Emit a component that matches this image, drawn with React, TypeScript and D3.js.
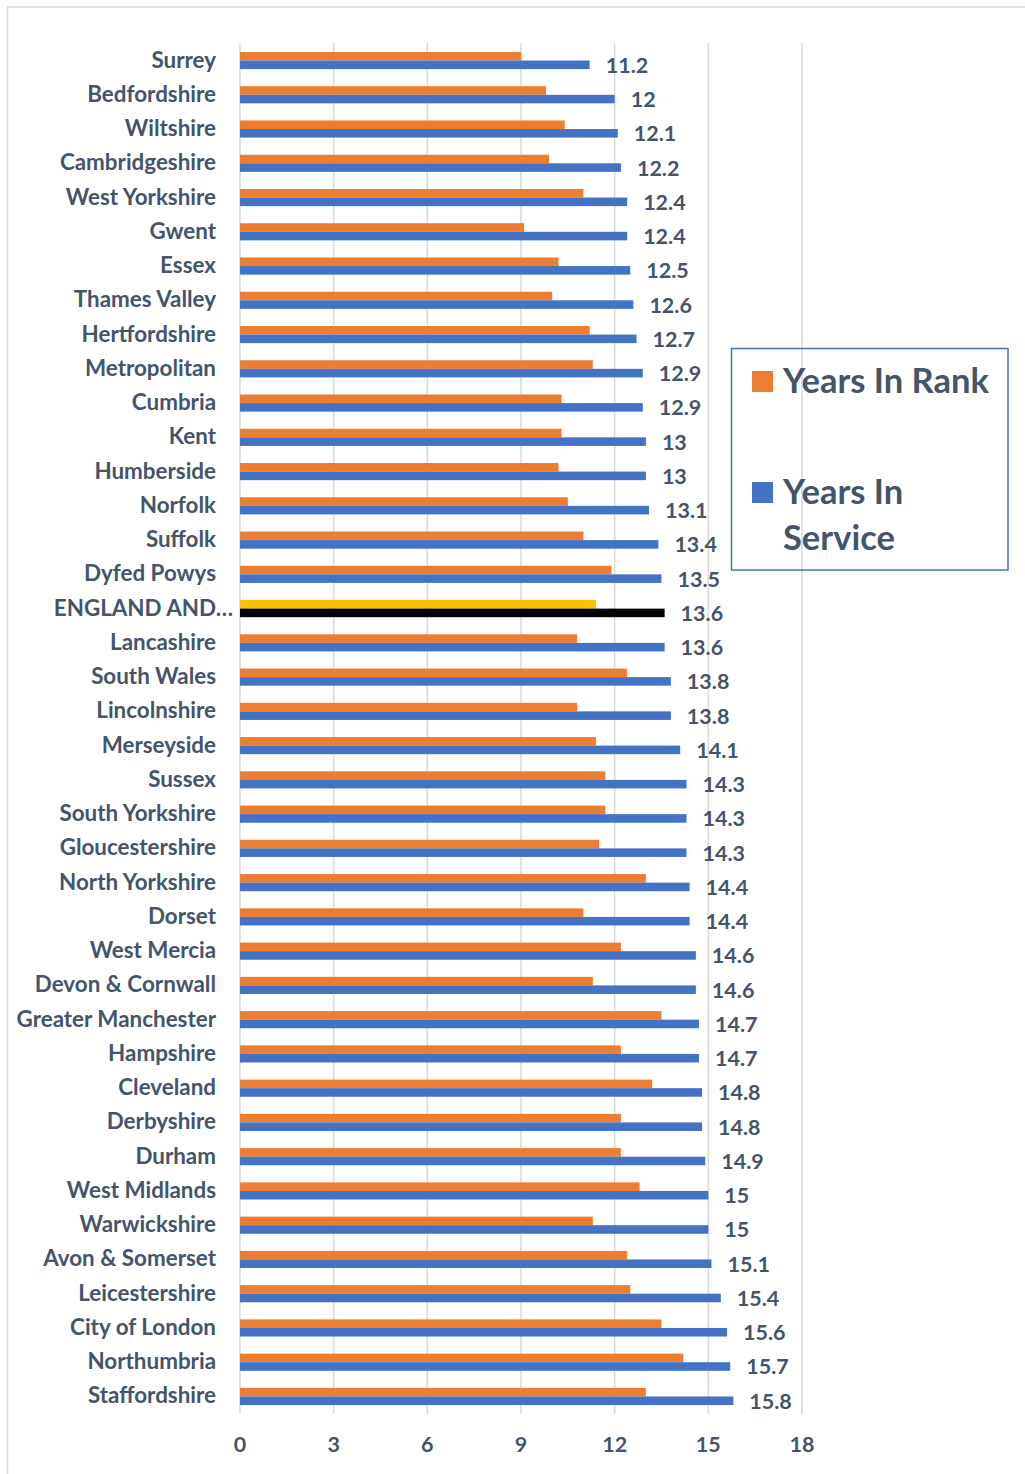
import React from "react";
import * as d3 from "d3";

const categories = [
  "Surrey", "Bedfordshire", "Wiltshire", "Cambridgeshire", "West Yorkshire", "Gwent", "Essex",
  "Thames Valley", "Hertfordshire", "Metropolitan", "Cumbria", "Kent", "Humberside", "Norfolk",
  "Suffolk", "Dyfed Powys", "ENGLAND AND WALES", "Lancashire", "South Wales", "Lincolnshire",
  "Merseyside", "Sussex", "South Yorkshire", "Gloucestershire", "North Yorkshire", "Dorset",
  "West Mercia", "Devon & Cornwall", "Greater Manchester", "Hampshire", "Cleveland", "Derbyshire",
  "Durham", "West Midlands", "Warwickshire", "Avon & Somerset", "Leicestershire", "City of London",
  "Northumbria", "Staffordshire",
];

const yearsInRank = [
  9.0, 9.8, 10.4, 9.9, 11.0, 9.1, 10.2, 10.0, 11.2, 11.3, 10.3, 10.3, 10.2, 10.5, 11.0, 11.9,
  11.4, 10.8, 12.4, 10.8, 11.4, 11.7, 11.7, 11.5, 13.0, 11.0, 12.2, 11.3, 13.5, 12.2, 13.2, 12.2,
  12.2, 12.8, 11.3, 12.4, 12.5, 13.5, 14.2, 13.0,
];

const yearsInService = [
  11.2, 12, 12.1, 12.2, 12.4, 12.4, 12.5, 12.6, 12.7, 12.9, 12.9, 13, 13, 13.1, 13.4, 13.5,
  13.6, 13.6, 13.8, 13.8, 14.1, 14.3, 14.3, 14.3, 14.4, 14.4, 14.6, 14.6, 14.7, 14.7, 14.8, 14.8,
  14.9, 15, 15, 15.1, 15.4, 15.6, 15.7, 15.8,
];

const xTicks = [0, 3, 6, 9, 12, 15, 18];
const seriesNames = ["Years In Rank", "Years In Service"];
const highlightCategory = "ENGLAND AND WALES";

const W = 1025;
const H = 1474;
const TEXT = "#44546A";
const FONT = "Lato, 'Open Sans', sans-serif";
const ORANGE = "#ED7D31";
const BLUE = "#4472C4";
const GOLD = "#FFC000";
const BLACK = "#000000";

function displayLabel(s: string) {
  return s === highlightCategory ? s.slice(0, 11) + "…" : s;
}

export default function App() {
  const x = d3.scaleLinear().domain([0, 18]).range([240, 802]);
  const y = d3
    .scaleBand<string>()
    .domain(categories)
    .range([43.4, 1413.6])
    .paddingInner(0.5)
    .paddingOuter(0.25);
  const inner = d3.scaleBand<string>().domain(seriesNames).range([0, y.bandwidth()]);

  return (
    <div style={{ position: "absolute", left: 0, top: 0 }}>
      <svg width={W} height={H} style={{ display: "block", fontFamily: FONT }}>
        <rect x={0} y={0} width={W} height={H} fill="#fff" />
        <rect x={7.5} y={7} width={W + 50} height={H + 50} fill="none" stroke="#d9d9d9" strokeWidth={1.5} />

        {xTicks.map((t) => (
          <line key={t} x1={x(t)} x2={x(t)} y1={43} y2={1414} stroke="#d9d9d9" strokeWidth={1.5} />
        ))}

        {categories.map((c, i) => {
          const y0 = y(c)!;
          const hl = c === highlightCategory;
          const rankW = x(yearsInRank[i]) - x(0);
          const servW = x(yearsInService[i]) - x(0);
          const yr = y0 + inner(seriesNames[0])!;
          const ys = y0 + inner(seriesNames[1])!;
          return (
            <g key={c}>
              <rect x={x(0)} y={yr} width={rankW} height={inner.bandwidth()} fill={hl ? GOLD : ORANGE} />
              <rect x={x(0)} y={ys} width={servW} height={inner.bandwidth()} fill={hl ? BLACK : BLUE} />
              <text
                x={hl ? 233 : 216}
                y={y0 + y.bandwidth() / 2 - 1.5}
                textAnchor="end"
                dominantBaseline="central"
                fontSize={22.4}
                fontWeight="bold"
                fill={TEXT}
              >
                {displayLabel(c)}
              </text>
              <text
                x={x(yearsInService[i]) + 16}
                y={ys + inner.bandwidth() / 2}
                dominantBaseline="central"
                fontSize={21.5}
                fontWeight="bold"
                fill={TEXT}
              >
                {String(yearsInService[i])}
              </text>
            </g>
          );
        })}

        {xTicks.map((t) => (
          <text
            key={"t" + t}
            x={x(t)}
            y={1444}
            textAnchor="middle"
            dominantBaseline="central"
            fontSize={21.5}
            fontWeight="bold"
            fill={TEXT}
          >
            {t}
          </text>
        ))}

        <g>
          <rect x={731.5} y={348.5} width={276.5} height={221.5} fill="none" stroke={BLUE} strokeWidth={1.5} />
          <rect x={752} y={371} width={21} height={21} fill={ORANGE} />
          <text x={783} y={392.5} fontSize={34.5} fontWeight="bold" fill={TEXT}>
            {seriesNames[0]}
          </text>
          <rect x={752} y={482} width={21} height={21} fill={BLUE} />
          <text x={783} y={503.5} fontSize={34.5} fontWeight="bold" fill={TEXT}>
            <tspan x={783}>Years In</tspan>
            <tspan x={783} dy={46}>Service</tspan>
          </text>
        </g>
      </svg>
    </div>
  );
}
